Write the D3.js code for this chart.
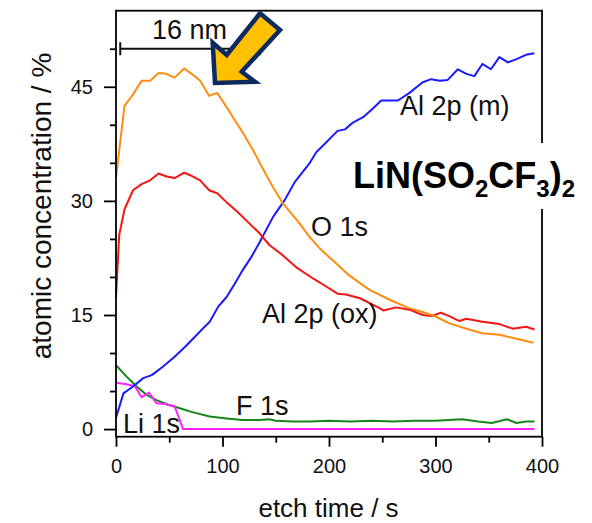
<!DOCTYPE html>
<html>
<head>
<meta charset="utf-8">
<script src="https://cdn.jsdelivr.net/npm/d3@7/dist/d3.min.js"></script>
<style>
  html, body { margin: 0; padding: 0; background: #ffffff; }
  svg { display: block; font-family: "Liberation Sans", Arial, Helvetica, sans-serif; }
</style>
</head>
<body>
<svg id="chart" width="592" height="523"></svg>
<script>
// ---- data ----
const o1sTime = [0, 8, 16, 24, 32, 40, 47.5, 55, 64, 71, 79, 87.5, 95, 104, 112, 119, 129, 138, 147.5, 157, 165, 172.5, 182, 193, 205, 219, 238, 257, 275, 288, 300, 313, 329, 344, 360, 375, 392];
const o1sValue = [33.1, 42.5, 44.0, 45.8, 45.8, 46.8, 46.7, 46.2, 47.4, 46.7, 45.8, 43.8, 44.2, 42.3, 40.5, 39.0, 36.6, 34.2, 31.8, 29.6, 28.3, 27.0, 25.2, 23.5, 22.0, 20.2, 18.3, 17.0, 15.9, 15.4, 14.8, 13.9, 13.2, 12.6, 12.4, 11.9, 11.35];

const al2pOxTime = [0, 3, 8, 16, 24, 32, 40, 47.5, 55, 64, 71, 79, 87.5, 95, 104, 113, 122.5, 135, 144, 157, 169, 185, 191, 208, 216, 229, 247.5, 251, 263, 275.6, 288, 296, 305, 313, 322.5, 329, 344, 360, 372.5, 385, 393];
const al2pOxValue = [17.3, 25.5, 28.9, 31.4, 32.2, 32.7, 33.6, 33.2, 33.0, 33.7, 33.3, 32.7, 31.4, 31.0, 29.8, 28.7, 27.4, 25.7, 24.2, 22.8, 21.3, 19.8, 19.3, 17.8, 17.7, 17.2, 15.9, 15.6, 16.0, 15.7, 15.0, 14.85, 15.3, 14.85, 14.2, 14.5, 14.1, 13.8, 13.2, 13.45, 13.1];

const al2pMTime = [0, 7, 16, 25.6, 33.5, 44, 55, 64.7, 72.5, 80, 88, 96, 104, 111.5, 119, 127, 135, 147.5, 158.4, 168, 182, 188, 197.5, 208, 215, 222.5, 232, 241, 249, 257, 264.7, 275.6, 288, 296, 304, 311.5, 321, 329, 336.5, 344, 352, 360, 368, 375.6, 385, 392.8];
const al2pMValue = [1.5, 4.7, 5.6, 6.7, 7.1, 8.2, 9.5, 10.8, 11.9, 13.0, 14.1, 16.1, 17.4, 19.1, 20.9, 22.6, 24.6, 27.9, 30.1, 32.5, 35.0, 36.4, 37.7, 39.2, 39.4, 40.3, 41.0, 42.1, 43.2, 43.2, 43.2, 44.2, 45.6, 46.0, 45.8, 45.9, 47.3, 46.7, 46.4, 48.0, 47.3, 48.9, 48.2, 48.6, 49.2, 49.4];

const f1sTime = [0, 10, 19.4, 28.8, 38, 49, 60, 72.5, 88, 104, 119, 135, 144, 150, 166, 182, 200, 220, 240, 260, 280, 300, 325, 340, 353, 367, 376, 385, 393];
const f1sValue = [8.4, 6.9, 5.6, 4.5, 3.8, 3.2, 2.75, 2.2, 1.65, 1.4, 1.2, 1.2, 1.3, 1.1, 1.0, 1.0, 1.1, 1.0, 1.1, 1.0, 1.1, 1.1, 1.3, 1.0, 0.8, 1.3, 0.8, 1.0, 1.0];

const li1sTime = [0, 10, 18, 24, 31, 38, 46, 55, 63, 393];
const li1sValue = [6.1, 5.9, 5.6, 4.2, 4.8, 3.4, 3.3, 3.0, 0, 0];

const xMajorTicks = [0, 100, 200, 300, 400];
const xMinorTicks = [50, 150, 250, 350];
const yMajorTicks = [0, 15, 30, 45];
const yMinorTicks = [5, 10, 20, 25, 35, 40, 50];

const seriesNames = ["F 1s", "Li 1s", "Al 2p (m)", "Al 2p (ox)", "O 1s"];
const seriesColors = ["#16861a", "#ff22ff", "#1a1aff", "#f51515", "#ff8c10"];

// ---- layout ----
const svg = d3.select("#chart");
const plotLeft = 116, plotRight = 542, plotTop = 10.7, plotBottom = 436.7;
const x = d3.scaleLinear().domain([0, 400]).range([plotLeft, plotRight]);
const y = d3.scaleLinear().domain([-1, 55]).range([plotBottom, plotTop]);
const font = "\"Liberation Sans\", Arial, sans-serif";

const series = [
  {t: f1sTime, v: f1sValue},
  {t: li1sTime, v: li1sValue},
  {t: al2pMTime, v: al2pMValue},
  {t: al2pOxTime, v: al2pOxValue},
  {t: o1sTime, v: o1sValue}
];

const line = d3.line().x(d => x(d[0])).y(d => y(d[1]));
series.forEach((s, i) => {
  const pts = s.t.map((t, k) => [t, s.v[k]]);
  svg.append("path")
    .datum(pts)
    .attr("d", line)
    .attr("fill", "none")
    .attr("stroke", seriesColors[i])
    .attr("stroke-width", 2)
    .attr("stroke-linejoin", "round");
});

// ---- axes ----
function styleAxis(g) {
  g.select(".domain").remove();
  g.selectAll(".tick line").attr("stroke", "#000").attr("stroke-width", 1.8);
  g.selectAll(".tick text").attr("fill", "#111").attr("font-size", 20).attr("font-family", font);
}
svg.append("g").attr("transform", `translate(${plotLeft},0)`)
  .call(d3.axisLeft(y).tickValues(yMinorTicks).tickSize(6).tickFormat(""))
  .call(styleAxis);
svg.append("g").attr("transform", `translate(${plotLeft},0)`)
  .call(d3.axisLeft(y).tickValues(yMajorTicks).tickSize(12).tickPadding(11).tickFormat(d3.format("d")))
  .call(styleAxis);
svg.append("g").attr("transform", `translate(0,${plotBottom})`)
  .call(d3.axisBottom(x).tickValues(xMinorTicks).tickSize(6).tickFormat(""))
  .call(styleAxis);
svg.append("g").attr("transform", `translate(0,${plotBottom})`)
  .call(d3.axisBottom(x).tickValues(xMajorTicks).tickSize(10).tickPadding(12).tickFormat(d3.format("d")))
  .call(styleAxis);

// frame
svg.append("rect")
  .attr("x", plotLeft).attr("y", plotTop)
  .attr("width", plotRight - plotLeft).attr("height", plotBottom - plotTop)
  .attr("fill", "none").attr("stroke", "#000").attr("stroke-width", 1.8);

// axis titles
svg.append("text")
  .attr("x", 328.5).attr("y", 517)
  .attr("text-anchor", "middle")
  .attr("font-size", 26).attr("fill", "#111")
  .text("etch time / s");
svg.append("text")
  .attr("transform", "translate(51,206) rotate(-90)")
  .attr("text-anchor", "middle")
  .attr("font-size", 28).attr("fill", "#111")
  .text("atomic concentration / %");

// series labels
const labelPos = [
  {name: seriesNames[0], px: 236, py: 415},
  {name: seriesNames[1], px: 123, py: 433},
  {name: seriesNames[2], px: 400, py: 115},
  {name: seriesNames[3], px: 262, py: 323},
  {name: seriesNames[4], px: 311, py: 236}
];
labelPos.forEach(l => {
  svg.append("text")
    .attr("x", l.px).attr("y", l.py)
    .attr("font-size", 27).attr("fill", "#111")
    .text(l.name);
});

// scale bar 16 nm
const barY = y(50);
svg.append("line").attr("x1", x(4)).attr("x2", x(135)).attr("y1", barY).attr("y2", barY)
  .attr("stroke", "#111").attr("stroke-width", 2);
[4, 135].forEach(t => {
  svg.append("line").attr("x1", x(t)).attr("x2", x(t)).attr("y1", barY - 6.5).attr("y2", barY + 6.5)
    .attr("stroke", "#111").attr("stroke-width", 2);
});
svg.append("text").attr("x", 152).attr("y", 39)
  .attr("font-size", 27).attr("fill", "#111").text("16 nm");

// arrow
const tipX = 215, tipY = 83;
const arrowPts = [[0, 0], [-2.3, -40.3], [11.7, -28], [45, -69.7], [65, -53], [26.7, -11.3], [40, -1.3]]
  .map(p => [tipX + p[0], tipY + p[1]]);
svg.append("polygon")
  .attr("points", arrowPts.map(p => p.join(",")).join(" "))
  .attr("fill", "#ffc000")
  .attr("stroke", "#0d2a5e")
  .attr("stroke-width", 4.5)
  .attr("stroke-linejoin", "miter");

// compound label with white background
svg.append("rect").attr("x", 340).attr("y", 143).attr("width", 252).attr("height", 66).attr("fill", "#ffffff");
const comp = svg.append("text").attr("x", 353).attr("y", 188)
  .attr("font-size", 36).attr("font-weight", "bold").attr("fill", "#000");
comp.append("tspan").text("LiN(SO");
comp.append("tspan").attr("font-size", 24).attr("dy", 9).text("2");
comp.append("tspan").attr("dy", -9).text("CF");
comp.append("tspan").attr("font-size", 24).attr("dy", 9).text("3");
comp.append("tspan").attr("dy", -9).text(")");
comp.append("tspan").attr("font-size", 24).attr("dy", 9).text("2");
</script>
</body>
</html>
